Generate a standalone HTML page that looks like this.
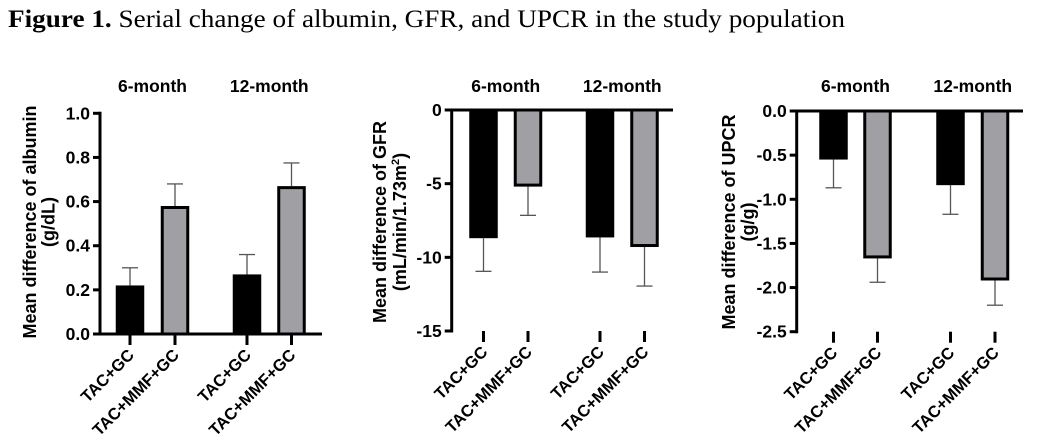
<!DOCTYPE html>
<html><head><meta charset="utf-8"><style>
html,body{margin:0;padding:0;background:#fff;}
svg{display:block;}
text{font-family:"Liberation Sans",Arial,sans-serif;font-weight:bold;fill:#000;}
</style></head><body>
<svg id="fig" width="1039" height="444" viewBox="0 0 1039 444">
<text x="8" y="27" textLength="837" lengthAdjust="spacingAndGlyphs" style="font-family:'Liberation Serif',serif;font-weight:normal;font-size:25px"><tspan style="font-weight:bold">Figure 1.</tspan> Serial change of albumin, GFR, and UPCR in the study population</text>
</svg>
<script>
const categories = ["TAC+GC","TAC+MMF+GC","TAC+GC","TAC+MMF+GC"];
const groupLabels = ["6-month","12-month"];
const albuminValues = [0.22, 0.58, 0.27, 0.67];
const albuminErrors = [0.08, 0.10, 0.09, 0.105];
const albuminTicks = ["0.0","0.2","0.4","0.6","0.8","1.0"];
const gfrValues = [-8.7, -5.2, -8.65, -9.3];
const gfrErrors = [2.25, 1.95, 2.35, 2.65];
const gfrTicks = ["-15","-10","-5","0"];
const upcrValues = [-0.55, -1.67, -0.84, -1.92];
const upcrErrors = [0.32, 0.27, 0.33, 0.28];
const upcrTicks = ["-2.5","-2.0","-1.5","-1.0","-0.5","0.0"];

const svg = document.getElementById('fig');
const NS = 'http://www.w3.org/2000/svg';
function mk(tag, attrs, parent){
  const e = document.createElementNS(NS, tag);
  for (const k in attrs) e.setAttribute(k, attrs[k]);
  (parent||svg).appendChild(e);
  return e;
}
function panel(cfg){
  const g = mk('g', {});
  
  
  const tv = cfg.ticks.map(Number);
  const min = Math.min(...tv), max = Math.max(...tv);
  const y = v => cfg.yBottom + (v - min) / (max - min) * (cfg.yTop - cfg.yBottom);
  const x = i => cfg.x0 + cfg.centers[i];
  const ax = mk('line', {x1: cfg.ax, x2: cfg.ax, y1: y(max)-1.5, y2: y(min)+1.5, stroke:'#000','stroke-width':3}, g);
  
  
  cfg.ticks.forEach(t => {
    const yy = y(Number(t));
    mk('line', {x1: cfg.ax-7, x2: cfg.ax, y1: yy, y2: yy, stroke:'#000','stroke-width':3}, g);
    const tx = mk('text', {x: cfg.ax-10, y: yy+6, 'text-anchor':'end','font-size':17.5}, g);
    tx.textContent = t;
    
    
  });
  const by = y(0);
  const xl = mk('line', {x1: cfg.ax, x2: cfg.xEnd, y1: by, y2: by, stroke:'#000','stroke-width':3}, g);
  
  
  const bottom = y(min);
  cfg.values.forEach((v, i) => {
    const cx = x(i), w = 28.5;
    const top = Math.min(y(v), by), h = Math.abs(y(v) - by);
    const grey = i % 2 === 1;
    const ev = v >= 0 ? v + cfg.errors[i] : v - cfg.errors[i];
    const el = mk('line', {x1: cx, x2: cx, y1: y(v), y2: y(ev), stroke:'#555','stroke-width':1.3}, g);
    
    
    mk('line', {x1: cx-8, x2: cx+8, y1: y(ev), y2: y(ev), stroke:'#555','stroke-width':1.3}, g);
    const r = grey
      ? mk('rect', {x: cx-w/2+1.5, y: top+(v>=0?1.5:0), width: w-3, height: Math.max(0,h-1.5), fill:'#a0a0a4', stroke:'#000','stroke-width':3}, g)
      : mk('rect', {x: cx-w/2, y: top, width: w, height: h, fill:'#000'}, g);
    
    
    mk('line', {x1: cx, x2: cx, y1: bottom, y2: bottom+11, stroke:'#000','stroke-width':3}, g);
    const lx = cx + 5, ly = bottom + 22;
    const lab = mk('text', {x: lx, y: ly, 'text-anchor':'end','font-size':16.5, transform:`rotate(-45 ${lx} ${ly})`}, g);
    lab.textContent = categories[i];
    
    
  });
  groupLabels.forEach((gl, j) => {
    const cx = (x(2*j) + x(2*j+1)) / 2;
    const t = mk('text', {x: cx, y: 92, 'text-anchor':'middle','font-size':17.5}, g);
    t.textContent = gl;
    
    
  });
  const tl = mk('text', {'text-anchor':'middle','font-size':18, transform:`translate(${cfg.titleX} ${cfg.titleY}) rotate(-90)`}, g);
  
  
  cfg.title.forEach((line, k) => {
    const ts = mk('tspan', {x: 0, dy: k === 0 ? 0 : cfg.lineGap}, tl);
    ts.innerHTML = line;
  });
}
panel({name:'albumin-chart', x0:0, ax:100, xEnd:322, yTop:113.3, yBottom:334, centers:[130,175,247,291.5],
  values:albuminValues, errors:albuminErrors, ticks:albuminTicks,
  title:['Mean difference of albumin','(g/dL)'], titleX:36, titleY:222, lineGap:18.5});
panel({name:'gfr-chart', x0:350, ax:451.7, xEnd:673, yTop:110, yBottom:331, centers:[133.5,178,250,294.5],
  values:gfrValues, errors:gfrErrors, ticks:gfrTicks,
  title:['Mean difference of GFR','(mL/min/1.73m<tspan dy="-7" font-size="11">2</tspan><tspan dy="7">)</tspan>'], titleX:386, titleY:222, lineGap:20});
panel({name:'upcr-chart', x0:700, ax:796.7, xEnd:1023, yTop:111, yBottom:331.7, centers:[133.5,177.5,250.5,295],
  values:upcrValues, errors:upcrErrors, ticks:upcrTicks,
  title:['Mean difference of UPCR','(g/g)'], titleX:735, titleY:222, lineGap:19});
</script>
</body></html>
